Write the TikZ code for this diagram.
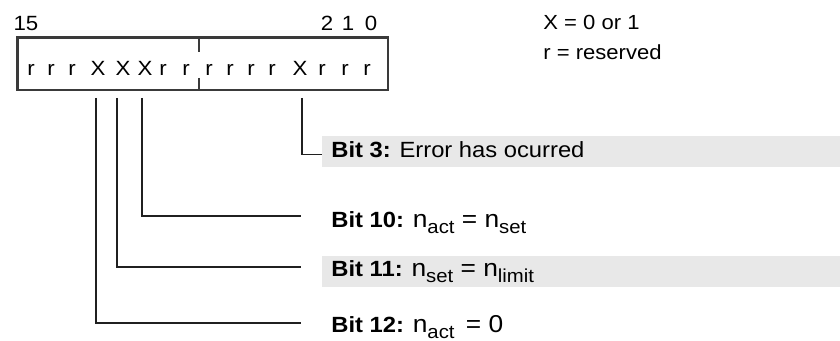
\documentclass[tikz,border=0pt]{standalone}
\usepackage{fontspec}
\setmainfont[FakeStretch=1.08]{Liberation Sans}
\usetikzlibrary{calc}
\definecolor{bandgray}{HTML}{E8E8E8}
\definecolor{boxgray}{HTML}{3A3A3A}
\definecolor{linegray}{HTML}{202020}
\newcommand\fml[1]{{\fontsize{12.2}{14}\selectfont #1}}
\newcommand\lowsub[1]{\raisebox{-2.6pt}{\fontsize{9.4}{10}\selectfont #1}}
\tikzset{
 regbox/.style={draw=boxgray, line width=1.4pt, inner sep=0pt},
 divline/.style={draw=boxgray, line width=0.6pt},
 bitchar/.style={anchor=base, inner sep=0pt, font=\fontsize{10.3}{11}\selectfont},
 toplbl/.style={anchor=base, inner sep=0pt, font=\fontsize{10.3}{11}\selectfont},
 legendtxt/.style={anchor=base west, inner sep=0pt, font=\fontsize{10.2}{12}\selectfont},
 bitlbl/.style={anchor=base west, inner sep=0pt, font=\fontsize{11}{13}\selectfont},
 band/.style={fill=bandgray, draw=none, inner sep=0pt, anchor=north west, minimum width=259pt, minimum height=15.5pt},
 conn/.style={draw=linegray, line width=0.55pt},
}
\begin{document}
\begin{tikzpicture}[x=0.5pt,y=-0.5pt]
\useasboundingbox (0,0) rectangle (840,341);
% register box
\node[regbox, minimum width=185.4pt, minimum height=26.25pt] (reg) at (202.6,63.75) {};
\draw[divline] (199,37.5) -- (199,52);
\draw[divline] (199,78) -- (199,90);
% bit characters
\foreach \ch/\xx [count=\i] in {r/31,r/51,r/72,X/98,X/123,X/145,r/163,r/186,r/209,r/230,r/251,r/272,X/300,r/322,r/345,r/367}
  \node[bitchar] (c\i) at (\xx,76) {\ch};
% bit numbers
\node[toplbl] (n15) at (26,30.7) {15};
\node[toplbl] (n2) at (327,30.7) {2};
\node[toplbl] (n1) at (348,30.7) {1};
\node[toplbl] (n0) at (371,30.7) {0};
% legend
\node[legendtxt] (lx) at (543,29.3) {X = 0 or 1};
\node[legendtxt] (lr) at (543,60) {r = reserved};
% bands
\node[band] (band3) at (322,136) {};
\node[band] (band11) at (322,256) {};
% labels
\node[bitlbl] (b3) at (331,158) {\textbf{Bit 3:} Error has ocurred};
\node[bitlbl] (b10) at (331,228) {\textbf{Bit 10:} \fml{n\lowsub{act} = n\lowsub{set}}};
\node[bitlbl] (b11) at (331,277) {\textbf{Bit 11:} \fml{n\lowsub{set} = n\lowsub{limit}}};
\node[bitlbl] (b12) at (331,333) {\textbf{Bit 12:} \fml{n\lowsub{act}\hspace{2pt} = 0}};
% connector ends
\coordinate (s3) at (302,98);
\coordinate (s10) at (142,98);
\coordinate (s11) at (117,98);
\coordinate (s12) at (96,98);
\coordinate (e3) at ($(band3.south west)+(0,-13)$);
\coordinate (e10) at (301,216);
\coordinate (e11) at (301,267);
\coordinate (e12) at (301,323);
\draw[conn] (s3) |- (e3);
\draw[conn] (s10) |- (e10);
\draw[conn] (s11) |- (e11);
\draw[conn] (s12) |- (e12);
\end{tikzpicture}
\end{document}
